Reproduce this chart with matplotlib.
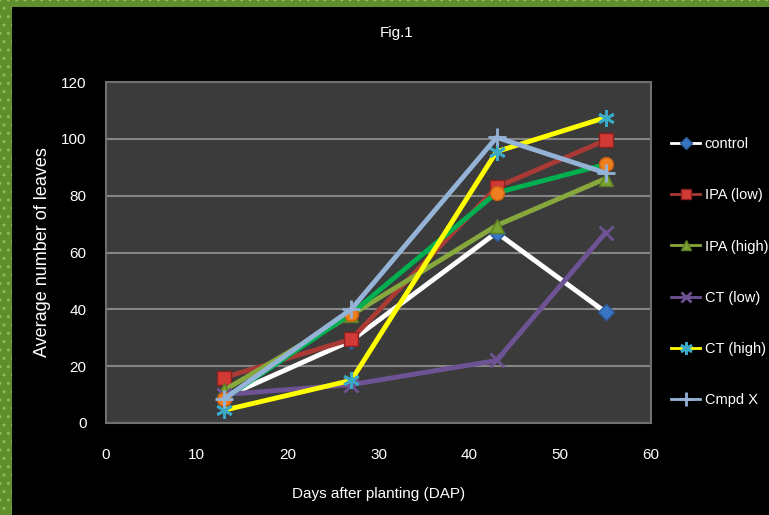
import matplotlib
matplotlib.use("Agg")
import matplotlib.pyplot as plt
from matplotlib.patches import Rectangle

plt.rcParams['font.family'] = ['Liberation Sans', 'DejaVu Sans']

# days after planting
dap = [13, 27, 43, 55]

control = [9, 29, 67, 39]
ipa_low = [16, 29.5, 83, 99.5]
ipa_high = [11.5, 38, 69.5, 86]
ct_low = [10, 13.5, 22, 67]
ct_high = [4.5, 15, 95.5, 107.5]
cmpd_x = [8.5, 40, 100.5, 88]
extra = [8.5, 38.5, 81, 91]  # green line / orange circle, not in legend

fig = plt.figure(figsize=(7.69, 5.15), dpi=100, facecolor='black')

# green patterned frame at top and left
fig.patches.append(Rectangle((0, 1 - 7 / 515), 1, 7 / 515, transform=fig.transFigure,
                             facecolor='#5e8f2c', edgecolor='#8dbb55', hatch='..', lw=0))
fig.patches.append(Rectangle((0, 0), 12 / 769, 1, transform=fig.transFigure,
                             facecolor='#5e8f2c', edgecolor='#8dbb55', hatch='..', lw=0))

ax = fig.add_axes([106 / 769, 92 / 515, 545 / 769, 341 / 515])
ax.set_facecolor('#3b3b3b')

lw = 3.5
ax.plot(dap, control, color='white', lw=lw, marker='D', ms=8,
        mfc='#3a75c4', mec='#2a5a9a', label='control', zorder=3)
ax.plot(dap, ipa_low, color='#a93a36', lw=lw, marker='s', ms=10,
        mfc='#d23a35', mec='#8a2020', label='IPA (low)', zorder=3)
ax.plot(dap, ipa_high, color='#86a83c', lw=lw, marker='^', ms=10,
        mfc='#7aa232', mec='#5c7d22', label='IPA (high)', zorder=3)
ax.plot(dap, ct_low, color='#6e5394', lw=lw, marker='x', ms=10, mew=2,
        mec='#6e5394', label='CT (low)', zorder=3)
ax.plot(dap, extra, color='#00b050', lw=lw, marker='o', ms=10,
        mfc='#ee7f20', mec='#c86010', zorder=3)
ax.plot(dap, ct_high, color='#ffff00', lw=lw, marker=(6, 2, 0), ms=12, mew=2,
        mec='#3aa9c6', label='CT (high)', zorder=4)
ax.plot(dap, cmpd_x, color='#95b3d7', lw=lw, marker='+', ms=13, mew=2,
        mec='#95b3d7', label='Cmpd X', zorder=5)

ax.set_xlim(0, 60)
ax.set_ylim(0, 120)
ax.set_xticks(range(0, 61, 10))
ax.set_yticks(range(0, 121, 20))
ax.grid(axis='y', color='#858585', lw=1.5)
ax.set_axisbelow(True)
ax.tick_params(colors='white', labelsize=11, length=0)
ax.tick_params(axis='y', pad=14)
ax.tick_params(axis='x', pad=18)
for s in ax.spines.values():
    s.set_color('#707070')
    s.set_linewidth(1.5)
for t in ax.get_lines():
    t.set_clip_on(False)

ax.set_xlabel('Days after planting (DAP)', color='white', fontsize=11, labelpad=18)
ax.set_ylabel('Average number of leaves', color='white', fontsize=13, labelpad=7)
fig.text(397 / 769, 1 - 33 / 515, 'Fig.1', color='white', fontsize=11,
         ha='center', va='center')

handles, labels = ax.get_legend_handles_labels()
leg = fig.legend(handles, labels, loc='upper left', bbox_to_anchor=(658 / 769, 1 - 124 / 515),
                 frameon=False, fontsize=10.5, labelspacing=2.55, handlelength=2.0,
                 handletextpad=0.3, labelcolor='white', markerscale=0.75)
for line in leg.get_lines():
    line.set_linewidth(2)

fig.savefig('out.png', dpi=100, facecolor='black')
